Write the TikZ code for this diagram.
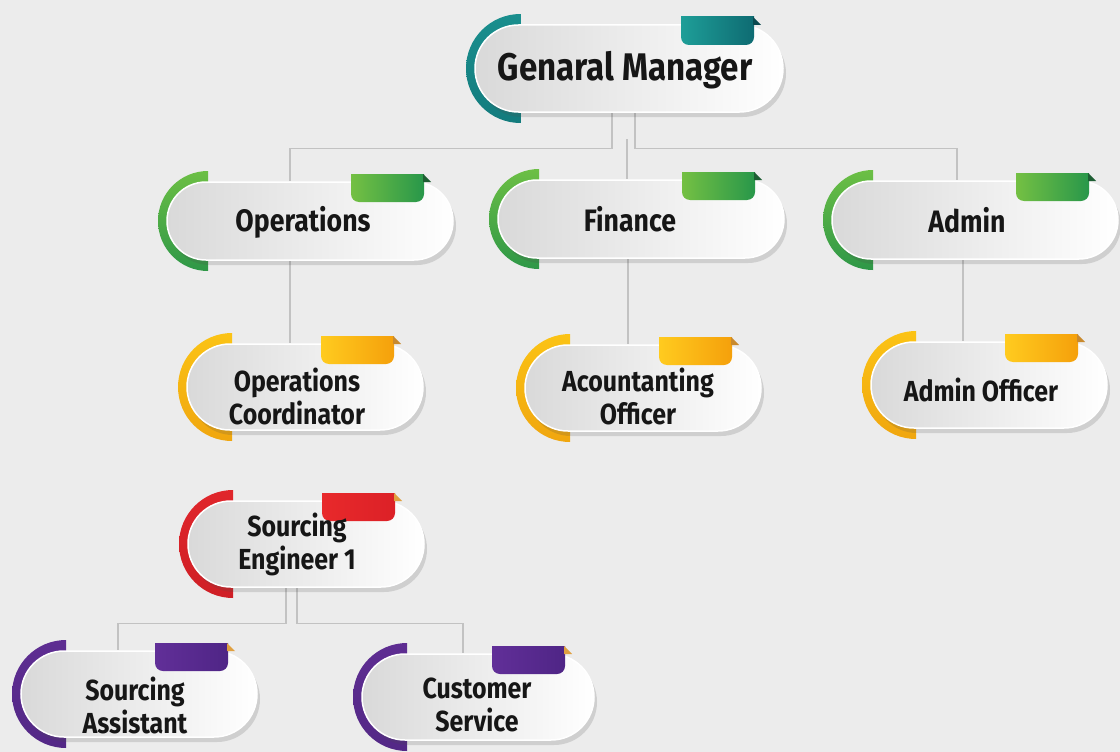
\documentclass[tikz,border=0pt]{standalone}
\usepackage{fontspec}
\newfontfamily\lblfont{Fira Sans}[FakeStretch=0.86]
\usetikzlibrary{shapes.misc,shadows,calc}
\pgfdeclarelayer{bg}
\pgfsetlayers{bg,main}

\definecolor{bgc}{HTML}{ECECEC}
\definecolor{pillL}{HTML}{D9D9D9}
\definecolor{lineC}{HTML}{C2C2C2}
\definecolor{txtC}{HTML}{161616}
% teal
\definecolor{tArcA}{HTML}{1A8F8E}\definecolor{tArcB}{HTML}{137B7D}
\definecolor{tTabA}{HTML}{1E9E98}\definecolor{tTabB}{HTML}{0E6B72}\definecolor{tFold}{HTML}{0B4A50}
% green
\definecolor{gArcA}{HTML}{6CBF45}\definecolor{gArcB}{HTML}{2E9747}
\definecolor{gTabA}{HTML}{74C043}\definecolor{gTabB}{HTML}{28974A}\definecolor{gFold}{HTML}{1E5E33}
% yellow
\definecolor{yArcA}{HTML}{FBC315}\definecolor{yArcB}{HTML}{F0A60F}
\definecolor{yTabA}{HTML}{FFCB1F}\definecolor{yTabB}{HTML}{F5A00B}\definecolor{yFold}{HTML}{C98A2E}
% red
\definecolor{rArcA}{HTML}{E0262B}\definecolor{rArcB}{HTML}{CF1F26}
\definecolor{rTabA}{HTML}{E8292B}\definecolor{rTabB}{HTML}{DC2127}\definecolor{rFold}{HTML}{E0A040}
% purple
\definecolor{pArcA}{HTML}{5E2D92}\definecolor{pArcB}{HTML}{532886}
\definecolor{pTabA}{HTML}{612F98}\definecolor{pTabB}{HTML}{4F2586}\definecolor{pFold}{HTML}{E0A040}

\tikzset{
  pill/.style={rounded rectangle, inner sep=0pt, left color=pillL, right color=white,
    draw=white, line width=1.5pt,
    drop shadow={opacity=0.18, shadow xshift=3pt, shadow yshift=-5pt, fill=black!70}},
  lbl/.style={text=txtC, align=center, inner sep=0pt},
  conn/.style={draw=lineC, line width=1.3pt},
  big/.style={font=\lblfont\bfseries\fontsize{38.5}{42}\selectfont},
  mid/.style={font=\lblfont\bfseries\fontsize{31}{34}\selectfont},
  sml/.style={font=\lblfont\bfseries\fontsize{29}{33}\selectfont},
}

% #1 name, #2 cx, #3 cy, #4 W, #5 H, #6 scheme, #7 text style, #8 text x, #9 text y, then text
\newcommand\orgbox[9]{%
  \pgfmathsetmacro\hr{#5/2}%
  \pgfmathsetmacro\ar{#5/2+11}%
  \pgfmathsetmacro\ax{#2-#4/2+\hr+2}%
  \begin{scope}
    \clip (\ax-\ar-2, #3-\ar-2) rectangle (\ax, #3+\ar+2);
    \shade[top color=#6ArcA, bottom color=#6ArcB] (\ax,#3) circle[radius=\ar];
  \end{scope}
  \node[pill, minimum width=#4pt, minimum height=#5pt] (#1) at (#2,#3) {};
  \pgfmathsetmacro\tabR{#2+#4/2-29}%
  \pgfmathsetmacro\tabL{\tabR-73}%
  \pgfmathsetmacro\tabT{#3-\hr-8}%
  \pgfmathsetmacro\tabB{#3-\hr+20}%
  \begin{scope}
    \clip (\tabL-1,\tabT) rectangle (\tabR+1,\tabB+1);
    \shade[left color=#6TabA, right color=#6TabB, rounded corners=8pt]
      (\tabL,\tabT-12) rectangle (\tabR,\tabB);
  \end{scope}
  \fill[#6Fold] (\tabR-1,\tabT) -- (\tabR+7,\tabT+8) -- (\tabR-1,\tabT+8) -- cycle;
  \orgtext{#1}{#7}{#8}{#9}%
}
\newcommand\orgtext[5]{\node[lbl,#2] (#1-t) at (#3,#4) {#5};}

\begin{document}
\begin{tikzpicture}[x=1pt,y=-1pt]
\begin{pgfonlayer}{bg}
  \fill[bgc] (0,0) rectangle (1120,752);
\end{pgfonlayer}
\useasboundingbox (0,0) rectangle (1120,752);

\orgbox{gm}{629}{68.5}{308}{87}{t}{big}{625}{70}{Genaral Manager}
\orgbox{ops}{310}{221}{286}{78}{g}{mid}{303}{222}{Operations}
\orgbox{fin}{641}{219}{286}{78}{g}{mid}{630}{219}{Finance}
\orgbox{adm}{975}{220}{286}{78}{g}{mid}{967}{220}{Admin}
\orgbox{oc}{305}{387}{236}{86}{y}{sml}{297}{396}{Operations\\Coordinator}
\orgbox{acc}{643}{388}{236}{86}{y}{sml}{638}{396}{Acountanting\\Officer}
\orgbox{ao}{989}{385}{236}{86}{y}{sml}{981}{390}{Admin Officer}
\orgbox{se}{306}{544}{236}{86}{r}{sml}{297}{544}{Sourcing\\Engineer 1}
\orgbox{sa}{139}{694}{236}{86}{p}{sml}{135}{705}{Sourcing\\Assistant}
\orgbox{cs}{478}{697}{232}{86}{p}{sml}{477}{705}{Customer\\Service}

\begin{pgfonlayer}{bg}
  \draw[conn] ([xshift=-17pt]gm.south) -- ++(0,36) -| ([xshift=-20pt]ops.north);
  \draw[conn] ([xshift=6pt]gm.south) -- ++(0,36) -| ([xshift=-18pt]adm.north);
  \coordinate (finTop) at ([xshift=-14pt,yshift=40pt]fin.north);
  \draw[conn] (finTop) -- ([xshift=-14pt]fin.north);
  \draw[conn] ([xshift=-20pt]ops.south) -- ([xshift=-20pt]ops.south |- oc.north);
  \draw[conn] ([xshift=-13pt]fin.south) -- ([xshift=-13pt]fin.south |- acc.north);
  \draw[conn] ([xshift=-12pt]adm.south) -- ([xshift=-12pt]adm.south |- ao.north);
  \draw[conn] ([xshift=-20pt]se.south) -- ++(0,36) -| ([xshift=-21pt]sa.north);
  \draw[conn] ([xshift=-9pt]se.south) -- ++(0,36) -| ([xshift=-15pt]cs.north);
\end{pgfonlayer}
\end{tikzpicture}
\end{document}
